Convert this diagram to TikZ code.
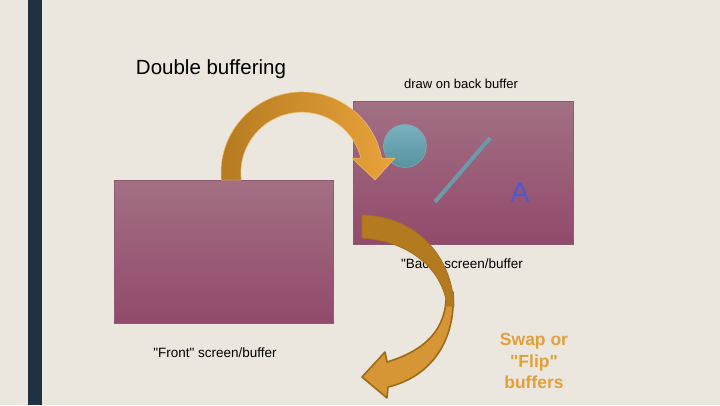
\documentclass[tikz,border=0pt]{standalone}
\usepackage{fontspec}
\setmainfont{Liberation Sans}
\definecolor{bg}{HTML}{EBE7DE}
\definecolor{barc}{HTML}{1F3142}
\definecolor{buftop}{HTML}{A27083}
\definecolor{bufbot}{HTML}{924A6C}
\definecolor{bufedge}{HTML}{8C5A72}
\definecolor{arrdark}{HTML}{B47A20}
\definecolor{arrlight}{HTML}{EAA33A}
\definecolor{arredge}{HTML}{9C6A1A}
\definecolor{swapc}{HTML}{E2A03C}
\definecolor{tealc}{HTML}{62A3B2}
\definecolor{linec}{HTML}{6C9AAA}
\definecolor{ac}{HTML}{5058D0}
\tikzset{
  buffer/.style={top color=buftop, bottom color=bufbot, draw=bufedge, line width=0.6pt},
  small/.style={font=\fontsize{13.5}{16}\selectfont, anchor=base, text=black},
  swaptext/.style={font=\fontsize{17.5}{21}\selectfont\bfseries, anchor=base, text=swapc},
}
\begin{document}
\begin{tikzpicture}[x=1pt,y=1pt]
\useasboundingbox (0,0) rectangle (720,-405);
\fill[bg] (0,0) rectangle (720,-405);
\fill[barc] (28,0) rectangle (42,-405);

% buffers
\path[buffer] (114,-180) rectangle (333,-323);
\path[buffer] (353,-101) rectangle (573,-244);

% back buffer content
\shade[top color=tealc!85!white, bottom color=tealc!90!black, draw=tealc!80!white, line width=0.4pt] (405,-146) circle[radius=21.5];
\draw[linec, line width=4pt] (435,-202) -- (490,-138);
\node[font=\fontsize{29}{32}\selectfont, text=ac, anchor=base] (letterA) at (520,-202) {A};

% texts
\node[font=\fontsize{20.5}{24}\selectfont, anchor=base] (title) at (211,-74) {Double buffering};
\node[small, font=\fontsize{13}{16}\selectfont] (drawlbl) at (461,-88) {draw on back buffer};
\node[small] (backlbl) at (462,-268) {\textquotedbl Back\textquotedbl\ screen/buffer};
\node[small] (frontlbl) at (215,-357) {\textquotedbl Front\textquotedbl\ screen/buffer};
\node[swaptext] (swap1) at (534,-345) {Swap or};
\node[swaptext] (swap2) at (534,-367) {\textquotedbl Flip\textquotedbl};
\node[swaptext] (swap3) at (534,-388) {buffers};

% top curved arrow
\shade[left color=arrdark, right color=arrlight, draw=arrlight!70!white, line width=0.5pt]
  (221.3,-180) arc[start angle=185, end angle=11.4, radius=81]
  -- (382,-158) -- (395,-158) -- (375,-180) -- (352,-158) -- (360.9,-158)
  arc[start angle=14.4, end angle=186.6, radius=61] -- cycle;

% bottom curved arrow: lower (front-facing) part
\draw[fill=arrlight!92!black, draw=arredge, line width=1.6pt, line join=round]
  (453,-292) .. controls (456,-342) and (430,-377) .. (388,-387)
  -- (387,-398) -- (362,-377) -- (385,-352) -- (387,-362)
  .. controls (420,-352) and (444,-334) .. (446,-300) -- cycle;
% upper (back-facing) part
\draw[fill=arrdark, draw=arrdark!92!black, line width=0.8pt, line join=round]
  (362,-215) .. controls (415,-216) and (452,-255) .. (454,-306)
  -- (447,-306) .. controls (443,-270) and (410,-241) .. (362,-238) -- cycle;
\end{tikzpicture}
\end{document}
